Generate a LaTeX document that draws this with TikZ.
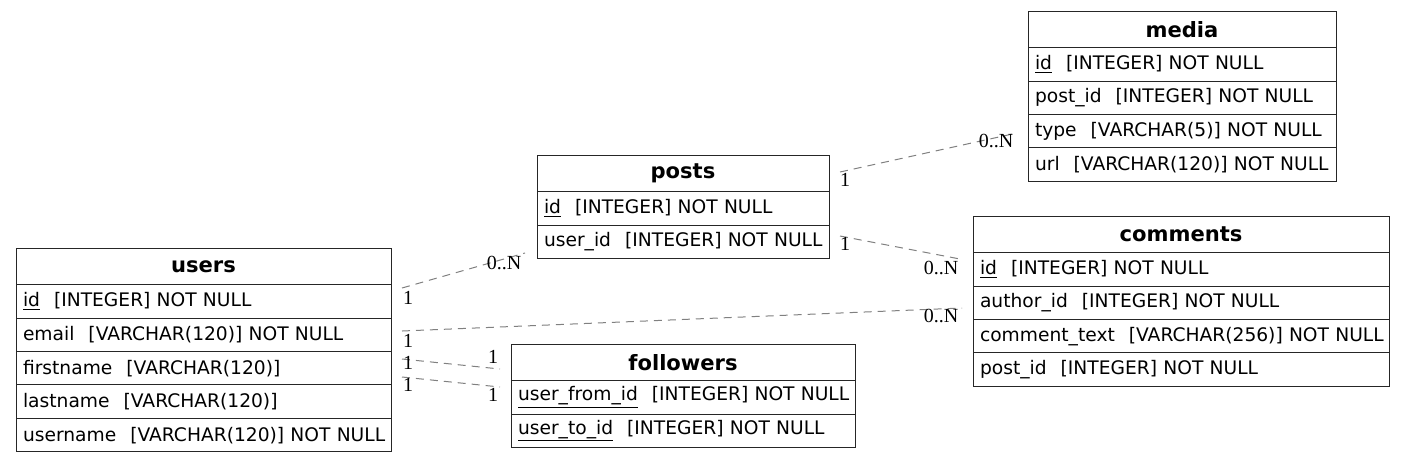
\documentclass[tikz,border=0pt]{standalone}
\usepackage{fontspec}
\newfontfamily\tblfont{DejaVu Sans}
\newfontfamily\lblfont{Liberation Serif}
\begin{document}
\begin{tikzpicture}[x=0.75pt,y=-0.75pt,
 tbox/.style={draw=black!85, line width=0.75pt, anchor=north west, outer sep=0pt, inner xsep=5.25pt, inner ysep=0pt},
 hdr/.style={tbox, minimum height=27.4pt, align=center, font=\tblfont\fontsize{15.8}{18}\selectfont\bfseries},
 fld/.style={tbox, minimum height=25.1pt, align=left, font=\tblfont\fontsize{14}{16}\selectfont},
 rel/.style={draw=black!50, line width=0.75pt, dash pattern=on 6pt off 4.5pt},
 card/.style={font=\lblfont\fontsize{15}{17}\selectfont, inner sep=0pt}
]
\useasboundingbox (0,0) rectangle (1405,462);
\def\gap{\hspace{0.75em}}
% users
\node[hdr, text width=270.75pt] (users) at (16,248) {users};
\node[fld, text width=270.75pt] (users-id) at (users.south west) {\mbox{\underline{id}\gap[INTEGER] NOT NULL}};
\node[fld, text width=270.75pt] (users-email) at (users-id.south west) {\mbox{email\gap[VARCHAR(120)] NOT NULL}};
\node[fld, text width=270.75pt] (users-first) at (users-email.south west) {\mbox{firstname\gap[VARCHAR(120)]}};
\node[fld, text width=270.75pt] (users-last) at (users-first.south west) {\mbox{lastname\gap[VARCHAR(120)]}};
\node[fld, text width=270.75pt] (users-user) at (users-last.south west) {\mbox{username\gap[VARCHAR(120)] NOT NULL}};
% posts
\node[hdr, text width=208.5pt] (posts) at (537,155) {posts};
\node[fld, text width=208.5pt] (posts-id) at (posts.south west) {\mbox{\underline{id}\gap[INTEGER] NOT NULL}};
\node[fld, text width=208.5pt] (posts-uid) at (posts-id.south west) {\mbox{user\_id\gap[INTEGER] NOT NULL}};
% media
\node[hdr, text width=220.5pt] (media) at (1028,11) {media};
\node[fld, text width=220.5pt] (media-id) at (media.south west) {\mbox{\underline{id}\gap[INTEGER] NOT NULL}};
\node[fld, text width=220.5pt] (media-pid) at (media-id.south west) {\mbox{post\_id\gap[INTEGER] NOT NULL}};
\node[fld, text width=220.5pt] (media-type) at (media-pid.south west) {\mbox{type\gap[VARCHAR(5)] NOT NULL}};
\node[fld, text width=220.5pt] (media-url) at (media-type.south west) {\mbox{url\gap[VARCHAR(120)] NOT NULL}};
% comments
\node[hdr, text width=301.5pt] (comments) at (973,216) {comments};
\node[fld, text width=301.5pt] (comments-id) at (comments.south west) {\mbox{\underline{id}\gap[INTEGER] NOT NULL}};
\node[fld, text width=301.5pt] (comments-aid) at (comments-id.south west) {\mbox{author\_id\gap[INTEGER] NOT NULL}};
\node[fld, text width=301.5pt] (comments-txt) at (comments-aid.south west) {\mbox{comment\_text\gap[VARCHAR(256)] NOT NULL}};
\node[fld, text width=301.5pt] (comments-pid) at (comments-txt.south west) {\mbox{post\_id\gap[INTEGER] NOT NULL}};
% followers
\node[hdr, text width=247.5pt] (followers) at (511,344) {followers};
\node[fld, text width=247.5pt] (followers-from) at (followers.south west) {\mbox{\underline{user\_from\_id}\gap[INTEGER] NOT NULL}};
\node[fld, text width=247.5pt] (followers-to) at (followers-from.south west) {\mbox{\underline{user\_to\_id}\gap[INTEGER] NOT NULL}};
% connector end points
\coordinate (e1a) at (402,288); \coordinate (e1b) at (525,253);
\coordinate (e2a) at (402,331); \coordinate (e2b) at (962,308);
\coordinate (e3a) at (402,359); \coordinate (e3b) at (500,369);
\coordinate (e4a) at (402,377); \coordinate (e4b) at (500,387);
\coordinate (e5a) at (840,172); \coordinate (e5b) at (1017,133);
\coordinate (e6a) at (840,236); \coordinate (e6b) at (960,259);
\draw[rel] (e1a) -- (e1b);
\draw[rel] (e2a) -- (e2b);
\draw[rel] (e3a) -- (e3b);
\draw[rel] (e4a) -- (e4b);
\draw[rel] (e5a) -- (e5b);
\draw[rel] (e6a) -- (e6b);
% cardinality labels
\node[card] (c1a) at (408,298) {1};
\node[card] (c1b) at (504,263) {0..N};
\node[card] (c2a) at (408,341) {1};
\node[card] (c2b) at (941,316) {0..N};
\node[card] (c3a) at (408,363) {1};
\node[card] (c3b) at (493,357) {1};
\node[card] (c4a) at (408,385) {1};
\node[card] (c4b) at (493,395) {1};
\node[card] (c5a) at (845,180) {1};
\node[card] (c5b) at (996,141) {0..N};
\node[card] (c6a) at (845,244) {1};
\node[card] (c6b) at (941,268) {0..N};
\end{tikzpicture}
\end{document}
